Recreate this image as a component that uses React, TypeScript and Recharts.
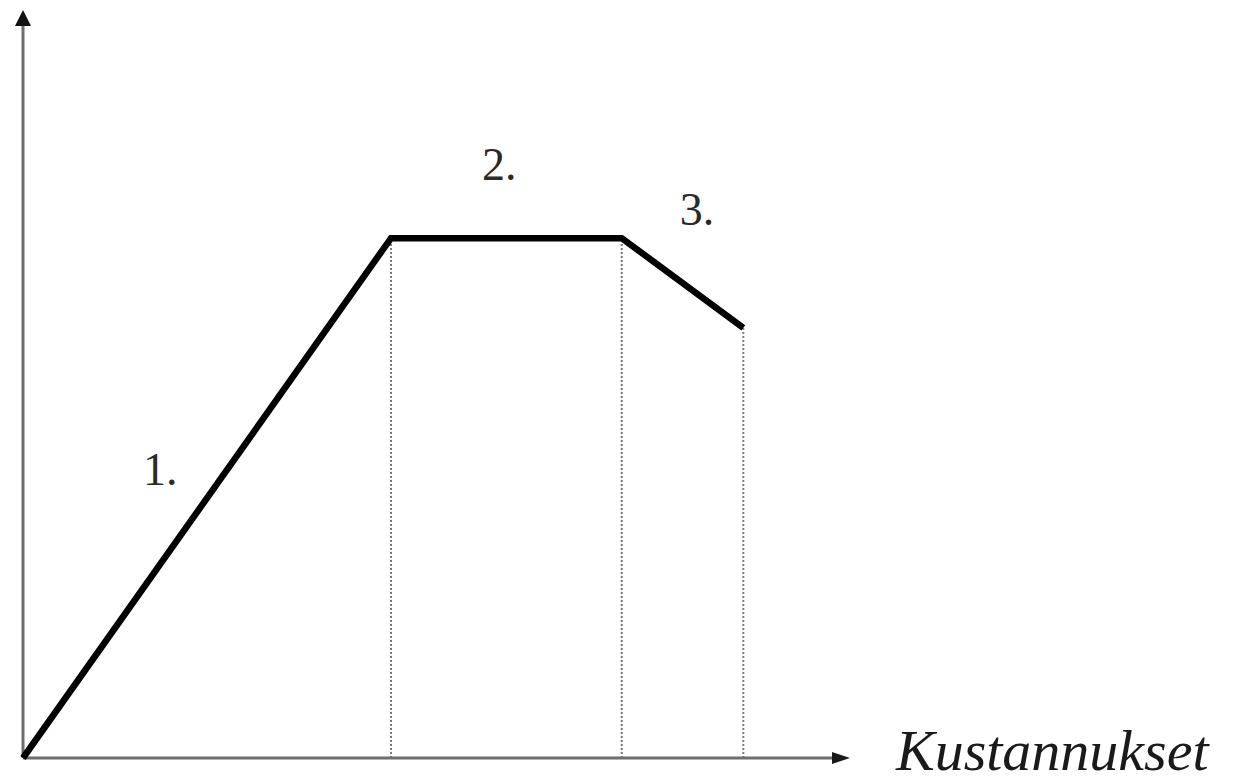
import React from 'react';
import { LineChart, Line, XAxis, YAxis, ReferenceLine, ReferenceDot } from 'recharts';

// Cost (x) and benefit (y) breakpoints of the curve
const costs = [0, 44.5, 72.4, 87.1];
const benefit = [0, 69.5, 69.5, 57.5];
// Phase labels and their anchor positions (data units)
const phaseLabels = ['1.', '2.', '3.'];
const phaseLabelX = [14.5, 55.5, 79.4];
const phaseLabelY = [36.5, 77.3, 71.3];
const xAxisTitle = 'Kustannukset';

const data = costs.map((c, i) => ({ x: c, y: benefit[i] }));

const AXIS = '#6e6e6e';
const FONT = '"Liberation Serif", "Times New Roman", serif';

const ArrowRight = (p: any) => (
  <polygon points={`${p.cx},${p.cy} ${p.cx - 18},${p.cy - 6} ${p.cx - 18},${p.cy + 6}`} fill="#1a1a1a" />
);
const ArrowUp = (p: any) => (
  <polygon points={`${p.cx},${p.cy} ${p.cx - 8},${p.cy + 16} ${p.cx + 8},${p.cy + 16}`} fill="#111" />
);
const AxisTitle = (p: any) => (
  <text x={p.cx + 46} y={p.cy + 12} fontFamily={FONT} fontStyle="italic" fontSize={58} fill="#1a1a1a">
    {xAxisTitle}
  </text>
);

export default function App() {
  return (
    <div style={{ position: 'absolute', left: 0, top: 0, background: '#fff' }}>
      <LineChart width={1237} height={783} data={data} margin={{ top: 10, right: 387, bottom: 25, left: 23 }}>
        <XAxis type="number" dataKey="x" domain={[0, 100]} hide />
        <YAxis type="number" domain={[0, 100]} hide />
        {data.slice(1).map((d, i) => (
          <ReferenceLine
            key={`v${i}`}
            segment={[{ x: d.x, y: 0 }, { x: d.x, y: d.y }]}
            stroke="#7a7a7a"
            strokeWidth={2}
            strokeDasharray="2 2"
            ifOverflow="visible"
          />
        ))}
        <ReferenceLine segment={[{ x: 0, y: 0 }, { x: 99, y: 0 }]} stroke={AXIS} strokeWidth={3} ifOverflow="visible" />
        <ReferenceLine segment={[{ x: 0, y: 0 }, { x: 0, y: 98 }]} stroke={AXIS} strokeWidth={3} ifOverflow="visible" />
        <ReferenceDot x={100} y={0} r={0} ifOverflow="visible" shape={ArrowRight} />
        <ReferenceDot x={0} y={100} r={0} ifOverflow="visible" shape={ArrowUp} />
        <ReferenceDot x={100} y={0} r={0} ifOverflow="visible" shape={AxisTitle} />
        {phaseLabels.map((t, i) => (
          <ReferenceDot
            key={`l${i}`}
            x={phaseLabelX[i]}
            y={phaseLabelY[i]}
            r={0}
            ifOverflow="visible"
            shape={(p: any) => (
              <text x={p.cx} y={p.cy} fontFamily={FONT} fontSize={46} fill="#2a2a2a">
                {t}
              </text>
            )}
          />
        ))}
        <Line
          type="linear"
          dataKey="y"
          stroke="#000"
          strokeWidth={6.5}
          dot={false}
          activeDot={false}
          isAnimationActive={false}
        />
      </LineChart>
    </div>
  );
}
